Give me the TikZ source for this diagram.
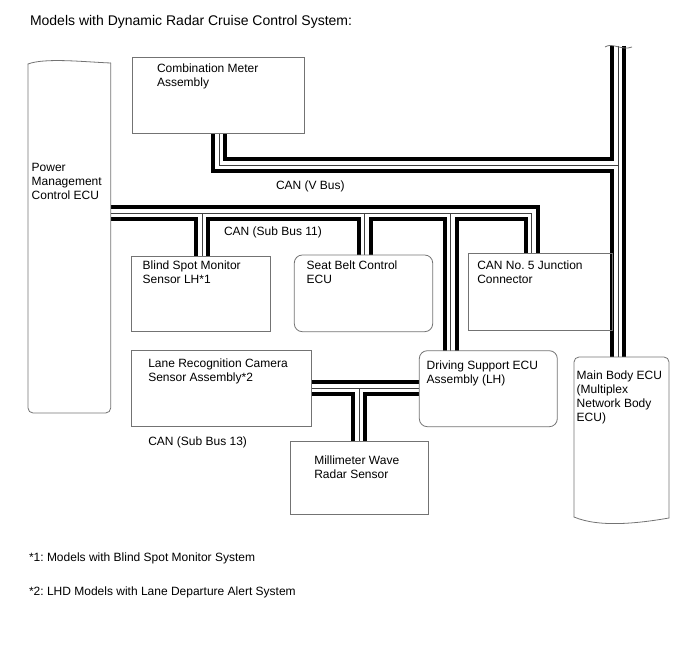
\documentclass[tikz,border=0pt]{standalone}
\usepackage{fontspec}
\setmainfont{Liberation Sans}
\frenchspacing
\pgfdeclarelayer{background}
\pgfsetlayers{background,main}
\tikzset{
  boxline/.style={draw=black!55, line width=0.8pt, line cap=round},
  sqbox/.style={boxline, rectangle, inner sep=0pt, outer sep=0pt, anchor=north west},
  rbox/.style={sqbox, rounded corners=8pt},
  lbl/.style={anchor=north west, inner sep=0pt, outer sep=0pt, align=left, font=\fontsize{12}{14.2}\selectfont},
  busblack/.style={line width=16pt, black},
  buswhite/.style={line width=8pt, white},
  busthin/.style={line width=1pt, black!75},
}
\begin{document}
\begin{tikzpicture}[x=1pt,y=-1pt]
\useasboundingbox (0,0) rectangle (688,658);

% title
\node[lbl, font=\fontsize{14}{16}\selectfont] (title) at (30,15) {Models with Dynamic Radar Cruise Control System:};

% boxes
\node[sqbox, minimum width=172pt, minimum height=76pt] (cm) at (132,57) {};
\node[sqbox, minimum width=139pt, minimum height=75pt] (bs) at (131,256) {};
\node[rbox, minimum width=138.4pt, minimum height=76.7pt] (sb) at (294.3,255) {};
\node[sqbox, minimum width=144pt, minimum height=76.7pt] (cj) at (468.3,253.3) {};
\node[sqbox, minimum width=180.7pt, minimum height=76.7pt] (lr) at (131,350) {};
\node[rbox, minimum width=138pt, minimum height=76pt] (ds) at (419.3,350.7) {};
\node[sqbox, minimum width=137.6pt, minimum height=73pt] (mw) at (290.7,441) {};

% Power Management Control ECU (wavy top)
\draw[boxline, rounded corners=5pt] (110.7,63) -- (110.7,413) -- (28,413) -- (28,64);
\draw[boxline] (28,64) .. controls (45,57.5) and (85,62) .. (110.7,63);
% Main Body ECU (wavy bottom)
\draw[boxline, rounded corners=5pt] (574,517) -- (574,357) -- (669,357) -- (669,518);
\draw[boxline] (574,517) .. controls (600,528) and (640,523) .. (669,518);

% bus coordinates
\coordinate (vtop) at (618,46);
\coordinate (vj) at (618,165);
\coordinate (vb) at (219,165);
\coordinate (mbtop) at (618,357);
\coordinate (pmr) at (110.7,213);
\coordinate (s11c) at (531.5,213);
\coordinate (j1) at (202,213);
\coordinate (j2) at (364.5,213);
\coordinate (j3) at (450.5,213);
\coordinate (j4) at (359,388.5);

\begin{pgfonlayer}{background}
\foreach \st in {busblack,buswhite,busthin}{
  \draw[\st] (vtop) -- (mbtop);
  \draw[\st] (vj) -- (vb) -- (cm.south -| vb);
  \draw[\st] (pmr) -- (s11c) -- (cj.north -| s11c);
  \draw[\st] (j1) -- (bs.north -| j1);
  \draw[\st] (j2) -- (sb.north -| j2);
  \draw[\st] (j3) -- (ds.north -| j3);
  \draw[\st] (lr.east) -- (lr.east -| ds.west);
  \draw[\st] (j4) -- (mw.north -| j4);
}
\end{pgfonlayer}
% break mark on top of trunk
\draw[black!55, line width=0.8pt] (605,47) .. controls (612,42) and (622,51) .. (632,47);

% labels
\node[lbl] (tcm) at (157,64) {Combination Meter\\Assembly};
\node[lbl] (tpm) at (31.7,163) {Power\\Management\\Control ECU};
\node[lbl] (tvbus) at (276,180.7) {CAN (V Bus)};
\node[lbl] (ts11) at (224,226.7) {CAN (Sub Bus 11)};
\node[lbl] (tbs) at (142.7,261) {Blind Spot Monitor\\Sensor LH*1};
\node[lbl] (tsb) at (306.7,260.7) {Seat Belt Control\\ECU};
\node[lbl] (tcj) at (477.3,260.7) {CAN No. 5 Junction\\Connector};
\node[lbl] (tlr) at (148.3,359) {Lane Recognition Camera\\Sensor Assembly*2};
\node[lbl] (ts13) at (148.3,437.3) {CAN (Sub Bus 13)};
\node[lbl] (tmw) at (314.3,455.7) {Millimeter Wave\\Radar Sensor};
\node[lbl] (tds) at (426.7,361) {Driving Support ECU\\Assembly (LH)};
\node[lbl] (tmb) at (576.7,370.7) {Main Body ECU\\(Multiplex\\Network Body\\ECU)};
\node[lbl] (fn1) at (29,552.7) {*1: Models with Blind Spot Monitor System};
\node[lbl] (fn2) at (29,586.7) {*2: LHD Models with Lane Departure Alert System};
\end{tikzpicture}
\end{document}
